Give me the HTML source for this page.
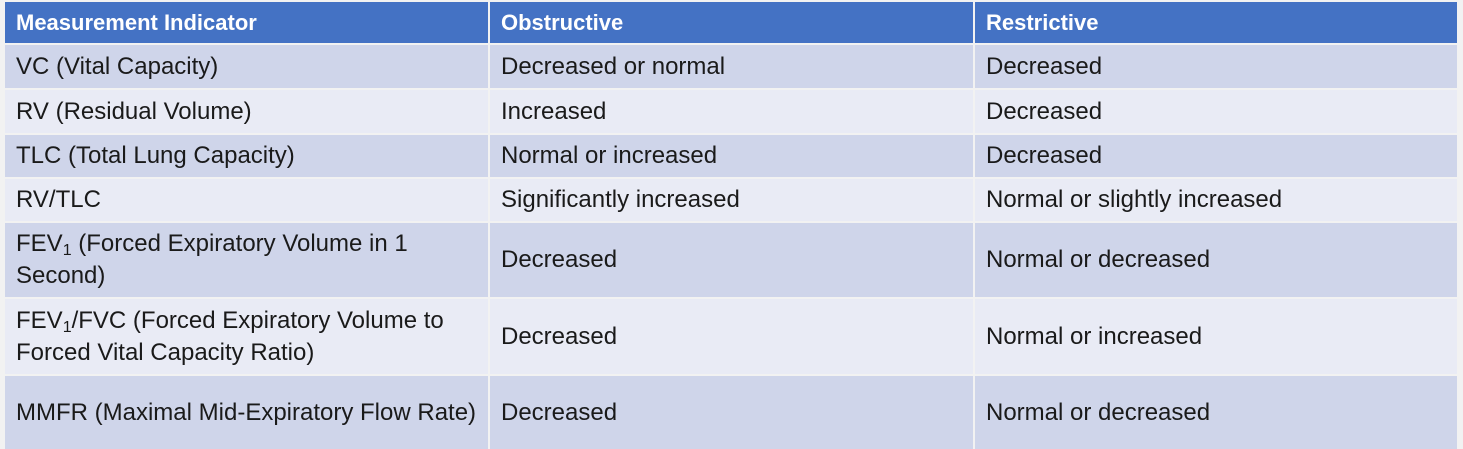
<!DOCTYPE html>
<html><head><meta charset="utf-8"><style>
body{margin:0;width:1463px;height:448px;background:#f2f2f2;overflow:hidden;font-family:"Liberation Sans",sans-serif;}
.c{position:absolute;box-sizing:border-box;padding-left:11px;display:flex;align-items:center;font-size:24px;color:#1a1a1a;line-height:32px;}
.h{background:#4472c4;color:#fff;font-weight:bold;font-size:22px;}
.o{background:#cfd5ea}.e{background:#e9ebf5}
sub{font-size:16px;vertical-align:-4px;line-height:0}
</style></head><body>
<div id="t"></div>
<script>
const rows=[
["Measurement Indicator","Obstructive","Restrictive"],
["VC (Vital Capacity)","Decreased or normal","Decreased"],
["RV (Residual Volume)","Increased","Decreased"],
["TLC (Total Lung Capacity)","Normal or increased","Decreased"],
["RV/TLC","Significantly increased","Normal or slightly increased"],
["FEV<sub>1</sub> (Forced Expiratory Volume in 1 Second)","Decreased","Normal or decreased"],
["FEV<sub>1</sub>/FVC (Forced Expiratory Volume to Forced Vital Capacity Ratio)","Decreased","Normal or increased"],
["MMFR (Maximal Mid-Expiratory Flow Rate)","Decreased","Normal or decreased"]];
const ys=[2,44,89,134,178,222,298,375,450];
const xs=[5,489,974,1458];
const t=document.getElementById('t');
rows.forEach((r,i)=>{r.forEach((txt,j)=>{
const d=document.createElement('div');
d.className='c '+(i==0?'h':(i%2?'o':'e'));


const x0=xs[j]+(j?1:0),x1=xs[j+1]-1,y0=ys[i]+(i?1:0),y1=ys[i+1]-1;
d.style.left=x0+'px';d.style.top=y0+'px';d.style.width=(x1-x0)+'px';d.style.height=(y1-y0)+'px';
d.innerHTML='<span style="max-width:462px">'+txt+'</span>';
t.appendChild(d);});});
</script>
</body></html>
